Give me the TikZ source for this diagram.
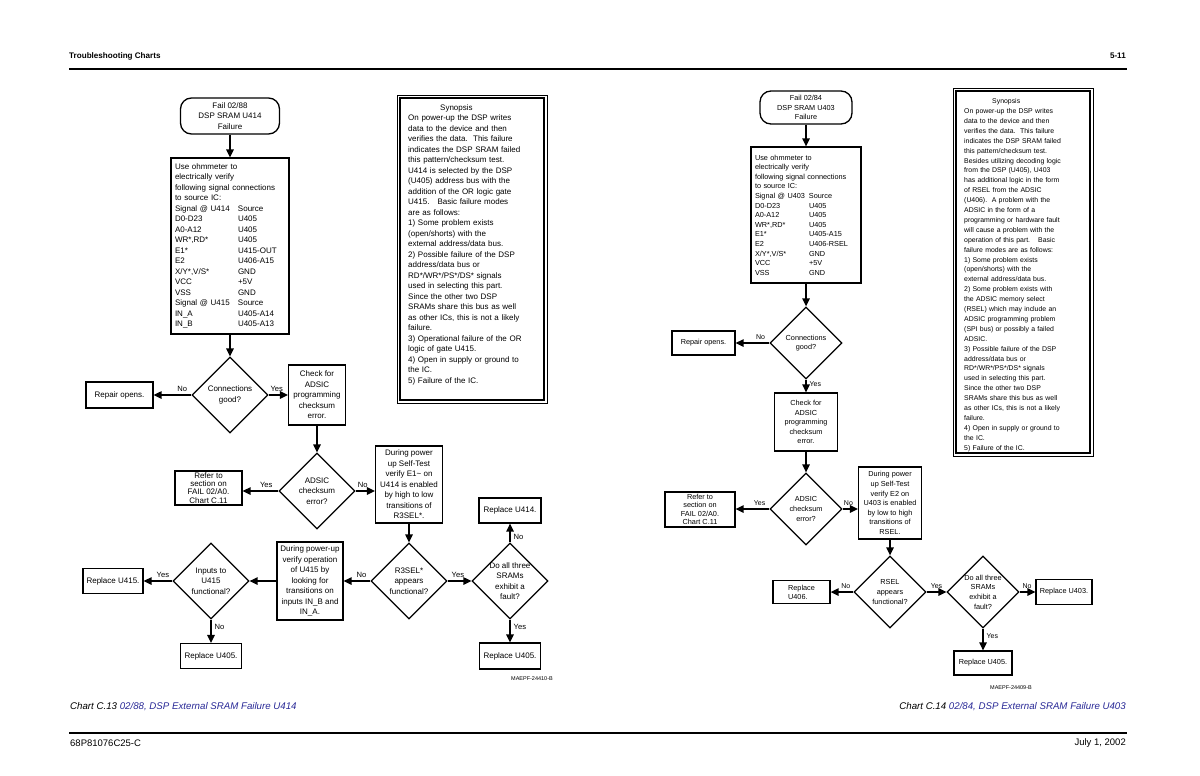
\documentclass[tikz,border=0pt]{standalone}
\usepackage{fontspec}
\setmainfont{Liberation Sans}
\usetikzlibrary{shapes.geometric,arrows.meta}
\definecolor{capblue}{RGB}{40,40,150}
\newcommand{\chfonta}{\fontsize{8}{10.5}\selectfont}
\newcommand{\chfontb}{\fontsize{7.3}{9.6}\selectfont}
\newcommand{\siga}[1]{\makebox[63pt][l]{#1}}
\newcommand{\sigb}[1]{\makebox[54pt][l]{#1}}
\begin{document}
\begin{tikzpicture}[x=1pt,y=-1pt,
  box/.style={draw,line width=1.3pt,align=center,inner sep=1pt},
  dia/.style={draw,diamond,line width=1.3pt,align=center,inner sep=-6pt,minimum width=#1,minimum height=#1},
  arr/.style={line width=1.4pt,-{Triangle[length=8pt,width=7.5pt]}},
  lbla/.style={inner sep=1pt,font=\fontsize{7.6}{9}\selectfont},
  lblb/.style={inner sep=1pt,font=\fontsize{7}{8}\selectfont}]
\useasboundingbox (0,0) rectangle (1200,776);
%\draw[very thin,color=gray,step=50] (0,0) grid (1200,776);
\node[anchor=west,inner sep=0pt,font=\fontsize{8.1}{10}\selectfont\bfseries] (hdrL) at (69,56) {Troubleshooting Charts};
\node[anchor=east,inner sep=0pt,font=\fontsize{8.1}{10}\selectfont\bfseries] (hdrR) at (1126,56) {5-11};
\draw[line width=1.5pt] (69,69) -- (1127,69);
\draw[line width=1.5pt] (69,733) -- (1127,733);
\node[anchor=west,inner sep=0pt,font=\fontsize{9.5}{11}\selectfont] (ftL) at (70,743) {68P81076C25-C};
\node[anchor=east,inner sep=0pt,font=\fontsize{9.5}{11}\selectfont] (ftR) at (1126,743) {July 1, 2002};

% chart C.13
\node[box,rounded corners=11pt,minimum width=99,minimum height=36,font=\chfonta] (startA) at (230,116) {Fail 02/88\\DSP SRAM U414\\Failure};
\node[box,align=left,minimum width=118,minimum height=176,text width=110,inner sep=4pt,font=\chfonta] (ohmA) at (230,246)
  {Use ohmmeter to\\electrically verify\\following signal connections\\to source IC:\\
   \siga{Signal @ U414}Source\\\siga{D0-D23}U405\\\siga{A0-A12}U405\\\siga{WR*,RD*}U405\\
   \siga{E1*}U415-OUT\\\siga{E2}U406-A15\\\siga{X/Y*,V/S*}GND\\\siga{VCC}+5V\\\siga{VSS}GND\\
   \siga{Signal @ U415}Source\\\siga{IN\_A}U405-A14\\\siga{IN\_B}U405-A13};
\node[dia=76,font=\chfonta] (connA) at (230,395) {Connections\\good?};
\node[box,minimum width=67,minimum height=26,font=\chfonta] (repairA) at (119.5,395) {Repair opens.};
\node[box,minimum width=57,minimum height=60,font=\chfonta] (checkA) at (317,395) {Check for\\ADSIC\\programming\\checksum\\error.};
\node[dia=76,font=\chfonta] (adsicA) at (317,491) {ADSIC\\checksum\\error?};
\node[box,minimum width=67,minimum height=34,font=\fontsize{8}{8.2}\selectfont] (referA) at (208.5,488) {Refer to\\section on\\FAIL 02/A0.\\Chart C.11};
\node[box,minimum width=67,minimum height=77,font=\chfonta] (duringA) at (409,484.5) {During power\\up Self-Test\\verify E1\textasciitilde{} on\\U414 is enabled\\by high to low\\transitions of\\R3SEL*.};
\node[box,minimum width=62,minimum height=25,font=\chfonta] (replAa) at (510,510.5) {Replace U414.};
\node[dia=76,font=\chfonta] (rselA) at (409,581) {R3SEL*\\appears\\functional?};
\node[dia=76,font=\chfonta] (sramA) at (510,581) {Do all three\\SRAMs\\exhibit a\\fault?};
\node[box,minimum width=61,minimum height=26,font=\chfonta] (replAb) at (510,656) {Replace U405.};
\node[box,minimum width=66,minimum height=78,font=\chfonta] (verifyA) at (310,581) {During power-up\\verify operation\\of U415 by\\looking for\\transitions on\\inputs IN\_B and\\IN\_A.};
\node[dia=76,font=\chfonta] (inputsA) at (211,581) {Inputs to\\U415\\functional?};
\node[box,minimum width=60,minimum height=25,font=\chfonta] (replAc) at (113,581) {Replace U415.};
\node[box,minimum width=61,minimum height=25,font=\chfonta] (replAd) at (211,656) {Replace U405.};

\draw[arr] (startA) -- (ohmA);
\draw[arr] (ohmA) -- (connA);
\draw[arr] (connA) -- node[lbla,pos=0.24,above=2pt] (noA1) {No} (repairA);
\draw[arr] (connA) -- node[lbla,pos=0.42,above=2pt] (yesA1) {Yes} (checkA);
\draw[arr] (checkA) -- (adsicA);
\draw[arr] (adsicA.west) -- node[lbla,pos=0.34,above=2pt] (yesA2) {Yes} (adsicA.west -| referA.east);
\draw[arr] (adsicA.east) -- node[lbla,pos=0.37,above=2pt] (noA2) {No} (adsicA.east -| duringA.west);
\draw[arr] (duringA) -- (rselA);
\draw[arr] (rselA) -- node[lbla,pos=0.43,above=2pt] (yesA3) {Yes} (sramA);
\draw[arr] (sramA) -- node[lbla,pos=0.3,right=2pt] (noA3) {No} (replAa);
\draw[arr] (sramA) -- node[lbla,pos=0.33,right=2pt] (yesA4) {Yes} (replAb);
\draw[arr] (rselA) -- node[lbla,pos=0.33,above=2pt] (noA4) {No} (verifyA);
\draw[arr] (verifyA) -- (inputsA);
\draw[arr] (inputsA) -- node[lbla,pos=0.33,above=2pt] (yesA5) {Yes} (replAc);
\draw[arr] (inputsA) -- node[lbla,pos=0.3,right=2pt] (noA5) {No} (replAd);

\draw[line width=0.8pt] (397,95) rectangle (547,403);
\draw[line width=2pt] (400,98) rectangle (544,400);
\node[anchor=north west,align=left,text width=136,inner sep=0pt,font=\chfonta] (synA) at (408,104.5)
  {\hspace*{32pt}Synopsis\\On power-up the DSP writes\\data to the device and then\\verifies the data.\ \ This failure\\
   indicates the DSP SRAM failed\\this pattern/checksum test.\\U414 is selected by the DSP\\(U405) address bus with the\\
   addition of the OR logic gate\\U415.\hspace{8pt}Basic failure modes\\are as follows:\\1) Some problem exists\\
   (open/shorts) with the\\external address/data bus.\\2) Possible failure of the DSP\\address/data bus or\\
   RD*/WR*/PS*/DS* signals\\used in selecting this part.\\Since the other two DSP\\SRAMs share this bus as well\\
   as other ICs, this is not a likely\\failure.\\3) Operational failure of the OR\\logic of gate U415.\\
   4) Open in supply or ground to\\the IC.\\5) Failure of the IC.};

\node[font=\fontsize{5.5}{6}\selectfont] (figA) at (532,679) {MAEPF-24410-B};
\node[anchor=west,inner sep=0pt,font=\fontsize{9.7}{11}\selectfont\itshape] (capA) at (70,707) {Chart C.13 \textcolor{capblue}{02/88, DSP External SRAM Failure U414}};

% chart C.14
\node[box,rounded corners=11pt,minimum width=92,minimum height=33,font=\chfontb] (startB) at (806,107.5) {Fail 02/84\\DSP SRAM U403\\Failure};
\node[box,align=left,minimum width=110,minimum height=136,text width=102,inner sep=4pt,font=\chfontb] (ohmB) at (806,215)
  {Use ohmmeter to\\electrically verify\\following signal connections\\to source IC:\\
   \sigb{Signal @ U403}Source\\\sigb{D0-D23}U405\\\sigb{A0-A12}U405\\\sigb{WR*,RD*}U405\\
   \sigb{E1*}U405-A15\\\sigb{E2}U406-RSEL\\\sigb{X/Y*,V/S*}GND\\\sigb{VCC}+5V\\\sigb{VSS}GND};
\node[dia=72,font=\chfontb] (connB) at (806,343) {Connections\\good?};
\node[box,minimum width=63,minimum height=24,font=\chfontb] (repairB) at (703.5,343) {Repair opens.};
\node[box,minimum width=63,minimum height=58,font=\chfontb] (checkB) at (806,422) {Check for\\ADSIC\\programming\\checksum\\error.};
\node[dia=72,font=\chfontb] (adsicB) at (806,509) {ADSIC\\checksum\\error?};
\node[box,minimum width=70,minimum height=35,font=\fontsize{7.3}{8.4}\selectfont] (referB) at (700,509.5) {Refer to\\section on\\FAIL 02/A0.\\Chart C.11};
\node[box,minimum width=63,minimum height=72,font=\chfontb] (duringB) at (890,503) {During power\\up Self-Test\\verify E2 on\\U403 is enabled\\by low to high\\transitions of\\RSEL.};
\node[dia=72,font=\chfontb] (rselB) at (890,592) {RSEL\\appears\\functional?};
\node[box,align=left,minimum width=57,minimum height=23,font=\fontsize{7.3}{9}\selectfont] (replBa) at (801.5,592) {Replace\\U406.};
\node[dia=72,font=\chfontb] (sramB) at (983,592) {Do all three\\SRAMs\\exhibit a\\fault?};
\node[box,minimum width=56,minimum height=25,font=\chfontb] (replBb) at (1064,592) {Replace U403.};
\node[box,minimum width=58,minimum height=24,font=\chfontb] (replBc) at (983,663) {Replace U405.};

\draw[arr] (startB) -- (ohmB);
\draw[arr] (ohmB) -- (connB);
\draw[arr] (connB) -- node[lblb,pos=0.26,above=2pt] (noB1) {No} (repairB);
\draw[arr] (connB) -- node[lblb,pos=0.36,right=2pt] (yesB1) {Yes} (checkB);
\draw[arr] (checkB) -- (adsicB);
\draw[arr] (adsicB.west) -- node[lblb,pos=0.29,above=2pt] (yesB2) {Yes} (adsicB.west -| referB.east);
\draw[arr] (adsicB.east) -- node[lblb,pos=0.38,above=2pt] (noB2) {No} (adsicB.east -| duringB.west);
\draw[arr] (duringB) -- (rselB);
\draw[arr] (rselB) -- node[lblb,pos=0.33,above=2pt] (noB3) {No} (replBa);
\draw[arr] (rselB) -- node[lblb,pos=0.5,above=2pt] (yesB3) {Yes} (sramB);
\draw[arr] (sramB) -- node[lblb,pos=0.47,above=2pt] (noB4) {No} (replBb);
\draw[arr] (sramB) -- node[lblb,pos=0.35,right=2pt] (yesB4) {Yes} (replBc);

\draw[line width=0.8pt] (953,88) rectangle (1093,456);
\draw[line width=2pt] (956,91) rectangle (1090,453);
\node[anchor=north west,align=left,text width=126,inner sep=0pt,font=\fontsize{6.9}{9.9}\selectfont] (synB) at (964,98.5)
  {\hspace*{28pt}Synopsis\\On power-up the DSP writes\\data to the device and then\\verifies the data.\ \ This failure\\
   indicates the DSP SRAM failed\\this pattern/checksum test.\\Besides utilizing decoding logic\\from the DSP (U405), U403\\
   has additional logic in the form\\of RSEL from the ADSIC\\(U406).\ \ A problem with the\\ADSIC in the form of a\\
   programming or hardware fault\\will cause a problem with the\\operation of this part.\hspace{8pt}Basic\\
   failure modes are as follows:\\1) Some problem exists\\(open/shorts) with the\\external address/data bus.\\
   2) Some problem exists with\\the ADSIC memory select\\(RSEL) which may include an\\ADSIC programming problem\\
   (SPI bus) or possibly a failed\\ADSIC.\\3) Possible failure of the DSP\\address/data bus or\\RD*/WR*/PS*/DS* signals\\
   used in selecting this part.\\Since the other two DSP\\SRAMs share this bus as well\\as other ICs, this is not a likely\\
   failure.\\4) Open in supply or ground to\\the IC.\\5) Failure of the IC.};

\node[font=\fontsize{5.5}{6}\selectfont] (figB) at (1011,688) {MAEPF-24409-B};
\node[anchor=east,inner sep=0pt,font=\fontsize{9.7}{11}\selectfont\itshape] (capB) at (1126,707) {Chart C.14 \textcolor{capblue}{02/84, DSP External SRAM Failure U403}};
\end{tikzpicture}
\end{document}
